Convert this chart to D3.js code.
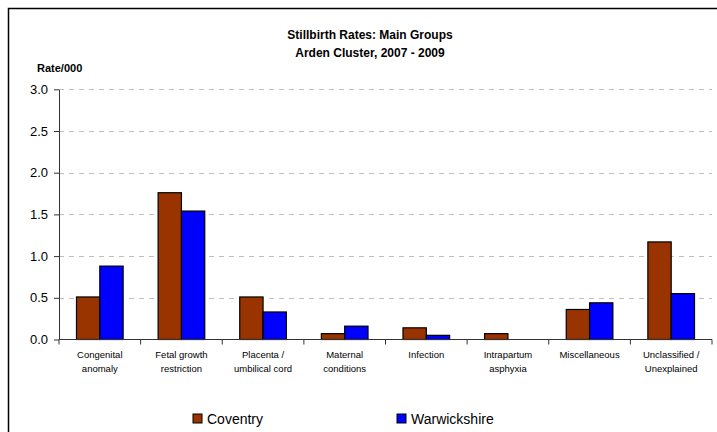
<!DOCTYPE html>
<html><head><meta charset="utf-8">
<script src="https://cdn.jsdelivr.net/npm/d3@7"></script>
<style>body{margin:0;background:#fff}svg{display:block;font-family:Arial,"Liberation Sans",sans-serif}</style>
</head><body><svg id="c" width="717" height="432"></svg>
<script>
const categories = [["Congenital","anomaly"],["Fetal growth","restriction"],["Placenta /","umbilical cord"],["Maternal","conditions"],["Infection"],["Intrapartum","asphyxia"],["Miscellaneous"],["Unclassified /","Unexplained"]];
const seriesNames = ["Coventry","Warwickshire"];
const coventry = [0.51,1.76,0.51,0.07,0.14,0.07,0.36,1.17];
const warwickshire = [0.88,1.54,0.33,0.16,0.05,0,0.44,0.55];
const yTicks = [0,0.5,1,1.5,2,2.5,3];
const colors = ["#993300","#0000FF"];

const svg = d3.select("#c");
const m = {l:59, r:712, t:89.3, b:339.5};
svg.append("rect").attr("x",8.5).attr("y",8.5).attr("width",720).attr("height",440).attr("fill","#fff").attr("stroke","#000").attr("stroke-width",1.5);

const x = d3.scaleBand().domain(d3.range(categories.length)).range([m.l,m.r]);
const y = d3.scaleLinear().domain([0,3]).range([m.b,m.t]);
const inner = d3.scaleBand().domain([0,1]).range([0,x.bandwidth()]).paddingInner(0).paddingOuter(0.75);

// gridlines
svg.append("g").selectAll("line").data(yTicks.filter(d=>d>0)).join("line")
  .attr("x1",m.l).attr("x2",m.r).attr("y1",d=>Math.round(y(d))+0.5).attr("y2",d=>Math.round(y(d))+0.5)
  .attr("stroke","#c0c0c0").attr("stroke-dasharray","5,5");

// bars
const data = [coventry, warwickshire];
data.forEach((vals,si)=>{
  svg.append("g").selectAll("rect").data(vals).join("rect")
    .attr("x",(d,i)=>x(i)+inner(si)).attr("width",inner.bandwidth())
    .attr("y",d=>y(d)).attr("height",d=>y(0)-y(d))
    .attr("fill",colors[si]).attr("stroke","#000").attr("stroke-width",1.2)
    .attr("display",d=>d>0?null:"none");
});

// y axis
const ya = svg.append("g").attr("transform",`translate(${m.l},0)`)
  .call(d3.axisLeft(y).tickValues(yTicks).tickFormat(d3.format(".1f")).tickSize(5).tickSizeOuter(0));
ya.select(".domain").attr("stroke","#333");
ya.selectAll(".tick line").attr("stroke","#333");
ya.selectAll("text").attr("font-size",13).attr("font-family","Arial").attr("fill","#000").attr("dx",-3);

// x axis
const xa = svg.append("g").attr("transform",`translate(0,${m.b})`);
xa.append("line").attr("x1",m.l).attr("x2",m.r).attr("stroke","#333");
xa.selectAll(".tk").data(d3.range(categories.length+1)).join("line")
  .attr("x1",i=>i<categories.length?x(i):m.r).attr("x2",i=>i<categories.length?x(i):m.r)
  .attr("y1",0).attr("y2",5).attr("stroke","#333");
categories.forEach((lines,i)=>{
  const t = xa.append("text").attr("x",x(i)+x.bandwidth()/2).attr("y",18)
    .attr("text-anchor","middle").attr("font-size",9.5).attr("fill","#000");
  lines.forEach((s,j)=>t.append("tspan").attr("x",x(i)+x.bandwidth()/2).attr("dy",j?14:0).text(s));
});

// titles
svg.append("text").attr("x",370).attr("y",39).attr("text-anchor","middle").attr("font-weight","bold").attr("font-size",12).text("Stillbirth Rates: Main Groups");
svg.append("text").attr("x",370).attr("y",57).attr("text-anchor","middle").attr("font-weight","bold").attr("font-size",12).text("Arden Cluster, 2007 - 2009");
svg.append("text").attr("x",37).attr("y",72).attr("font-weight","bold").attr("font-size",11).text("Rate/000");

// legend
const lx = [193,397];
seriesNames.forEach((n,i)=>{
  svg.append("rect").attr("x",lx[i]).attr("y",414).attr("width",9).attr("height",9).attr("fill",colors[i]).attr("stroke","#000").attr("stroke-width",1);
  svg.append("text").attr("x",lx[i]+14).attr("y",423.5).attr("font-size",14).text(n);
});
</script></body></html>
